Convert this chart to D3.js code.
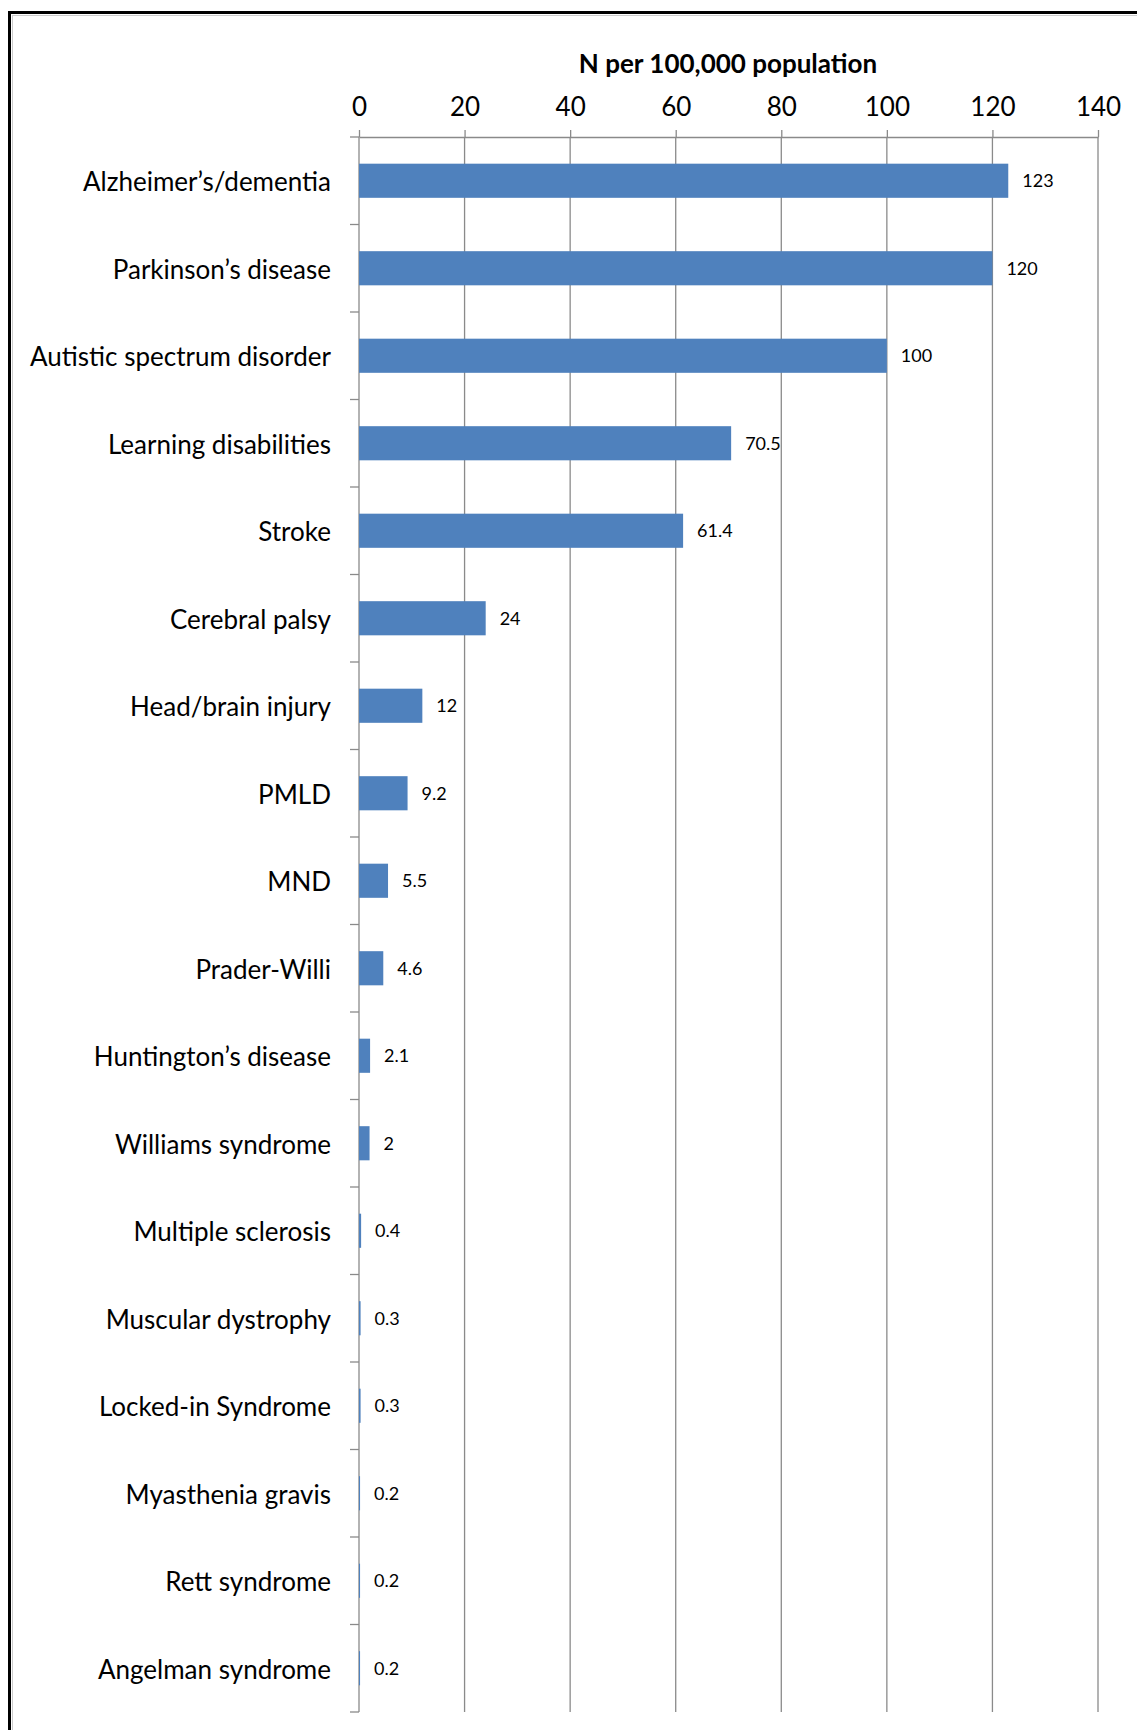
<!DOCTYPE html>
<html>
<head>
<meta charset="utf-8">
<script src="https://cdn.jsdelivr.net/npm/d3@7"></script>
<style>
  body { margin: 0; background: #fff; }
  svg text { font-family: Lato, "Open Sans", sans-serif; fill: #000; }
</style>
</head>
<body>
<svg width="1137" height="1730"></svg>
<script>
var categories = [
  "Alzheimer\u2019s/dementia", "Parkinson\u2019s disease", "Autistic spectrum disorder",
  "Learning disabilities", "Stroke", "Cerebral palsy", "Head/brain injury", "PMLD",
  "MND", "Prader-Willi", "Huntington\u2019s disease", "Williams syndrome",
  "Multiple sclerosis", "Muscular dystrophy", "Locked-in Syndrome",
  "Myasthenia gravis", "Rett syndrome", "Angelman syndrome"
];
var values = [123, 120, 100, 70.5, 61.4, 24, 12, 9.2, 5.5, 4.6, 2.1, 2, 0.4, 0.3, 0.3, 0.2, 0.2, 0.2];
var xTicks = [0, 20, 40, 60, 80, 100, 120, 140];
var title = "N per 100,000 population";

var svg = d3.select("svg"),
    margin = {top: 137, left: 359, right: 39, bottom: 18},
    width = +svg.attr("width") - margin.left - margin.right,
    height = +svg.attr("height") - margin.top - margin.bottom;

// frame
svg.append("rect")
  .attr("x", 9.5).attr("y", 12.5)
  .attr("width", 1200).attr("height", 1800)
  .attr("fill", "none").attr("stroke", "#000").attr("stroke-width", 3);
svg.append("rect")
  .attr("x", 12.5).attr("y", 15.5)
  .attr("width", 1200).attr("height", 1800)
  .attr("fill", "none").attr("stroke", "#ccc").attr("stroke-width", 1);

var x = d3.scaleLinear().domain([0, 140]).range([0, width]);
var y = d3.scaleBand().domain(categories).range([0, height]).padding(0);
var barFrac = 0.39;

var g = svg.append("g")
  .attr("transform", "translate(" + margin.left + "," + margin.top + ")");

// vertical gridlines
g.append("g").selectAll("line")
  .data(xTicks)
  .enter().append("line")
    .attr("x1", function(d) { return x(d); })
    .attr("x2", function(d) { return x(d); })
    .attr("y1", 0).attr("y2", height)
    .attr("stroke", "#8a8a8a").attr("stroke-width", 1.3);

// top axis
var xAxis = d3.axisTop(x).tickValues(xTicks).tickSize(7).tickPadding(14).tickSizeOuter(0);
var gx = g.append("g").call(xAxis);
gx.select(".domain").attr("stroke", "#8a8a8a").attr("stroke-width", 1.3);
gx.selectAll(".tick line").attr("stroke", "#8a8a8a").attr("stroke-width", 1.3);
gx.selectAll(".tick text").style("font-size", "26px").attr("fill", "#000");

// category axis
var yAxis = d3.axisLeft(y).tickSize(0).tickPadding(28);
var gy = g.append("g").call(yAxis);
gy.select(".domain").remove();
gy.selectAll(".tick text").style("font-size", "26px").attr("fill", "#000").attr("dy", "0.4em");

// band boundary ticks
var bounds = categories.map(function(c) { return y(c); }).concat([height]);
g.append("g").selectAll("line")
  .data(bounds)
  .enter().append("line")
    .attr("x1", -9).attr("x2", 0)
    .attr("y1", function(d) { return d; })
    .attr("y2", function(d) { return d; })
    .attr("stroke", "#8a8a8a").attr("stroke-width", 1.3);

// bars
g.append("g").selectAll("rect")
  .data(values)
  .enter().append("rect")
    .attr("x", x(0))
    .attr("y", function(d, i) { return y(categories[i]) + y.bandwidth() * (1 - barFrac) / 2; })
    .attr("width", function(d) { return x(d) - x(0); })
    .attr("height", y.bandwidth() * barFrac)
    .attr("fill", "#4f81bd");

// value labels
g.append("g").selectAll("text")
  .data(values)
  .enter().append("text")
    .attr("x", function(d) { return x(d) + 14; })
    .attr("y", function(d, i) { return y(categories[i]) + y.bandwidth() / 2; })
    .attr("dy", "0.37em")
    .style("font-size", "18px")
    .text(function(d) { return String(d); });

// title
svg.append("text")
  .attr("x", 728).attr("y", 73)
  .attr("text-anchor", "middle")
  .style("font-size", "26px").style("font-weight", "bold")
  .text(title);
</script>
</body>
</html>
